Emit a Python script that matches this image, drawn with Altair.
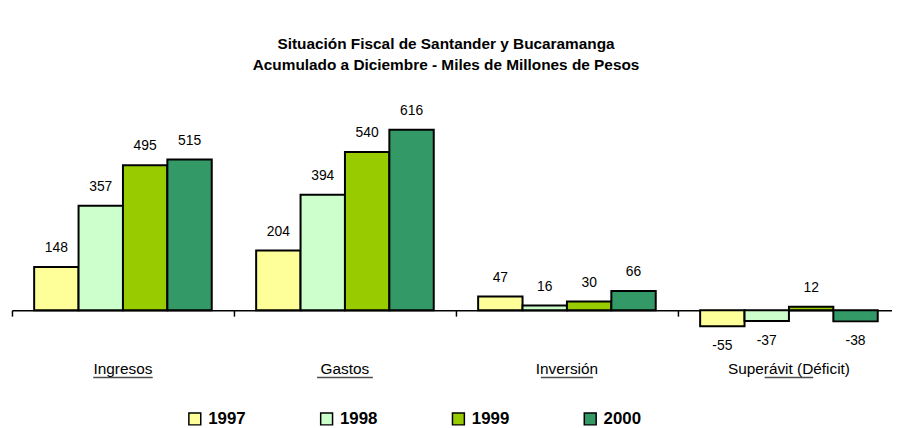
import altair as alt
import pandas as pd

categories = ["Ingresos", "Gastos", "Inversión", "Superávit (Déficit)"]
years = ["1997", "1998", "1999", "2000"]
v1997 = [148, 204, 47, -55]
v1998 = [357, 394, 16, -37]
v1999 = [495, 540, 30, 12]
v2000 = [515, 616, 66, -38]
colors = ["#FFFF99", "#CCFFCC", "#99CC00", "#339966"]

series = {"1997": v1997, "1998": v1998, "1999": v1999, "2000": v2000}
rows = []
for y in years:
    for c, v in zip(categories, series[y]):
        rows.append({"cat": c, "year": y, "value": v})
df = pd.DataFrame(rows)
cat_df = pd.DataFrame({"cat": categories})

FONT = "Liberation Sans, Arial, sans-serif"

x_scale = alt.Scale(domain=categories, paddingInner=0, paddingOuter=0, rangeMax=896)
y_scale = alt.Scale(domain=[-267, 748], nice=False, zero=False)

x_axis = alt.Axis(
    title=None, bandPosition=0, offset=-79, domainColor="black", domainWidth=1.5,
    tickColor="black", tickWidth=1.5, tickSize=6, labelPadding=58, labelAngle=0,
    labelAlign="center", labelBaseline="alphabetic", labelFont=FONT, labelFontSize=15.5,
    labelColor="black", labelOverlap=False, labelFlush=False, grid=False,
    labelBound=False,
)

xo = alt.XOffset("year:N", sort=years, scale=alt.Scale(paddingInner=0, paddingOuter=0.5))
X = alt.X("cat:N", sort=categories, scale=x_scale, axis=x_axis)
Y = alt.Y("value:Q", scale=y_scale, axis=None)

bars = alt.Chart(df).mark_bar(stroke="black", strokeWidth=2).encode(
    x=X,
    xOffset=xo,
    y=Y,
    color=alt.Color(
        "year:N", sort=years, scale=alt.Scale(domain=years, range=colors),
        legend=alt.Legend(
            title=None, orient="none", legendX=176, legendY=322,
            direction="horizontal", columns=4, symbolType="square",
            symbolSize=144, symbolStrokeColor="black", symbolStrokeWidth=1.5,
            labelFont=FONT, labelFontSize=17, labelFontWeight="bold",
            labelColor="black", columnPadding=72, labelOffset=5, padding=0,
        ),
    ),
)

labels_base = alt.Chart(df).transform_calculate(label="toString(datum.value)")

pos_labels = labels_base.transform_filter("datum.value >= 0").mark_text(
    font=FONT, fontSize=14, color="black", baseline="middle", dy=-19
).encode(x=X, xOffset=xo, y=Y, text=alt.Text("label:N"))

neg_labels = labels_base.transform_filter("datum.value < 0").mark_text(
    font=FONT, fontSize=14, color="black", baseline="middle", dy=20
).encode(x=X, xOffset=xo, y=Y, text=alt.Text("label:N"))

underline = alt.Chart(cat_df).mark_tick(orient="horizontal", thickness=1.5, color="black").encode(
    x=X,
    y=alt.value(289),
    size=alt.Size("cat:O", sort=categories,
                  scale=alt.Scale(domain=categories, range=[60, 49, 63, 123]), legend=None),
)

chart = alt.layer(bars, pos_labels, neg_labels, underline).properties(
    width=888,
    height=300,
    title=alt.TitleParams(
        ["Situación Fiscal de Santander y Bucaramanga",
         "Acumulado a Diciembre - Miles de Millones de Pesos"],
        font=FONT, fontSize=15.5, fontWeight="bold", color="black",
        anchor="middle", lineHeight=21, offset=18, dx=-6,
    ),
    autosize=alt.AutoSizeParams(type="none"),
    padding={"left": 4, "top": 82, "right": 0, "bottom": 38},
).configure_view(stroke=None)

chart.save("out.html", embed_options={"renderer": "svg", "actions": False})
